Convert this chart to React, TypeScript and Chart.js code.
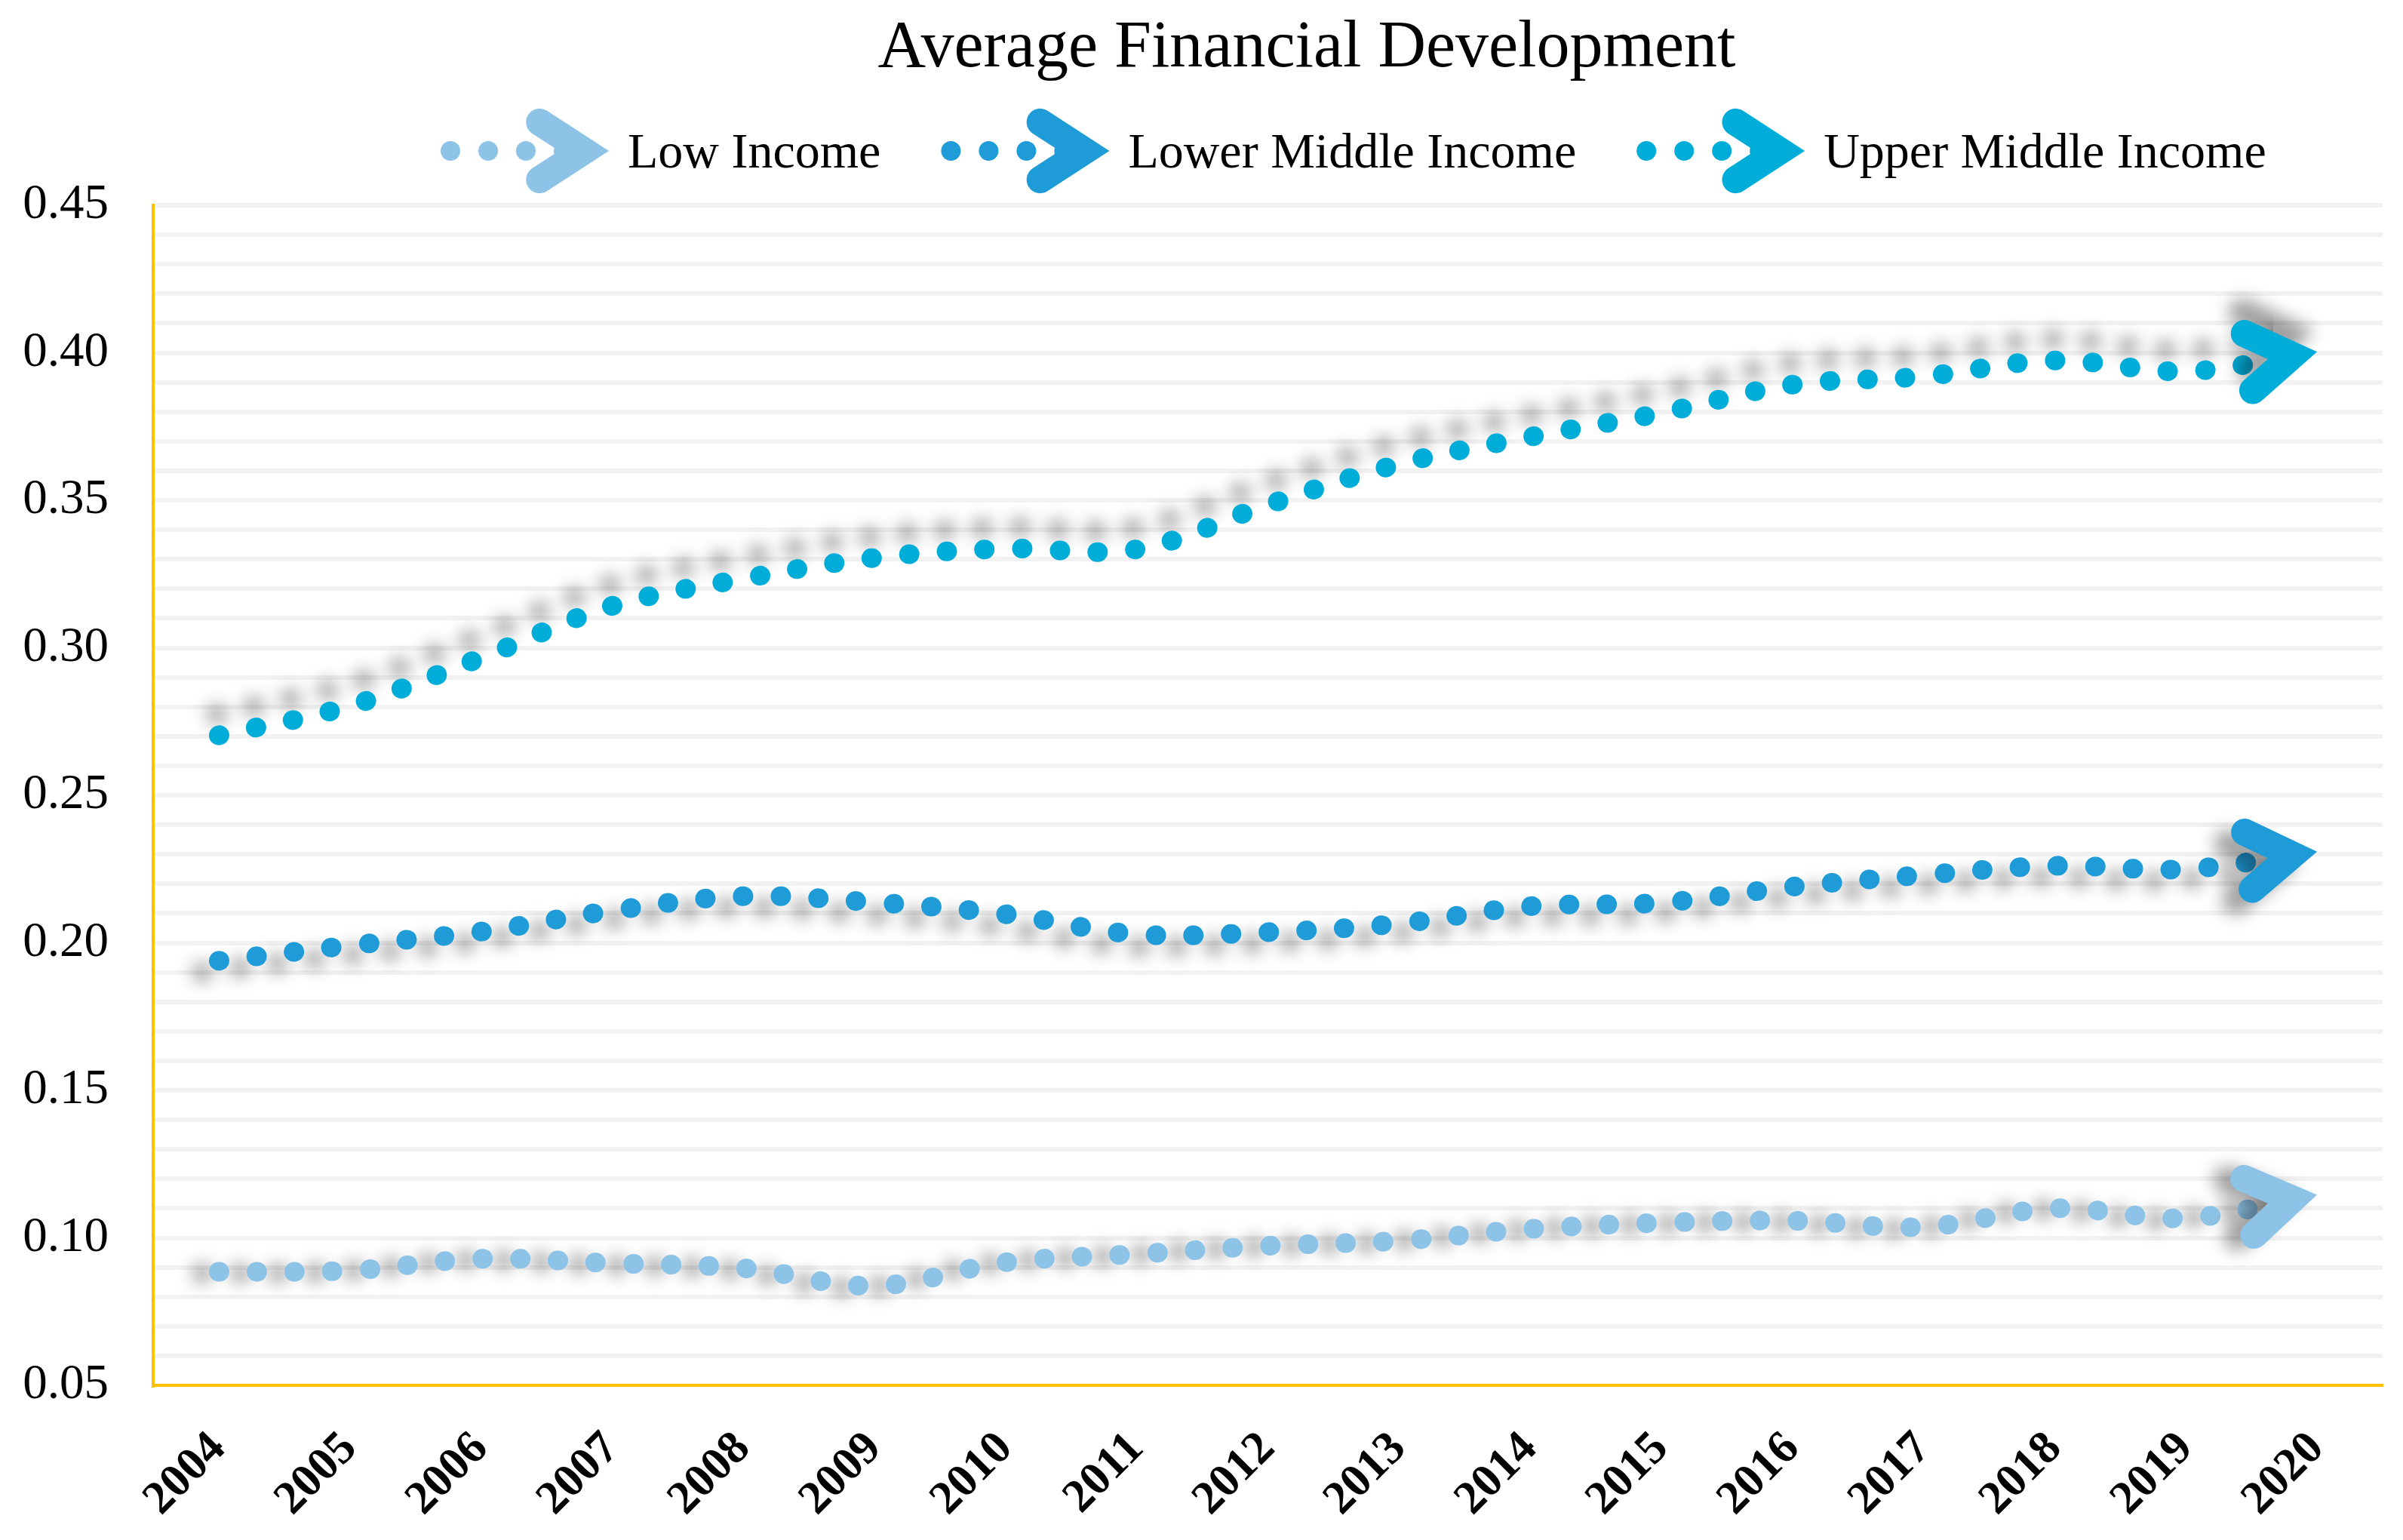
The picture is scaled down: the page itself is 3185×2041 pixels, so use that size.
import React, { useEffect, useRef } from 'react';
import { Chart, registerables } from 'chart.js';

Chart.register(...registerables);

// ---------- data ----------
const chartTitle = 'Average Financial Development';
const years = ['2004', '2005', '2006', '2007', '2008', '2009', '2010', '2011', '2012', '2013', '2014', '2015', '2016', '2017', '2018', '2019', '2020'];
const seriesNames = ['Low Income', 'Lower Middle Income', 'Upper Middle Income'];
const lowIncome = [0.0885, 0.0889, 0.0929, 0.0914, 0.0897, 0.0837, 0.0917, 0.0945, 0.0973, 0.0990, 0.1030, 0.1051, 0.1058, 0.1037, 0.1100, 0.1067, 0.1146];
const lowerMiddleIncome = [0.1939, 0.1991, 0.2038, 0.2109, 0.2158, 0.2137, 0.2097, 0.2029, 0.2036, 0.2065, 0.2124, 0.2136, 0.2190, 0.2230, 0.2261, 0.2250, 0.2309];
const upperMiddleIncome = [0.2703, 0.2803, 0.2966, 0.3142, 0.3234, 0.3305, 0.3336, 0.3334, 0.3485, 0.3623, 0.3715, 0.3796, 0.3892, 0.3920, 0.3974, 0.3937, 0.4003];
const yTickLabels = ['0.05', '0.10', '0.15', '0.20', '0.25', '0.30', '0.35', '0.40', '0.45'];

// ---------- styles ----------
const seriesColors = ['#8DC3E6', '#1F9CD8', '#00ACD8'];
const shadowOffsets: [number, number][] = [[-22, 2], [-22, 15], [-3, -28]];
const SERIF = '"Liberation Serif", "Times New Roman", Times, serif';
const AXIS_GOLD = '#FFC000';
const GRID_GREY = '#F2F2F2';

function drawChevron(ctx: CanvasRenderingContext2D, tipX: number, tipY: number, ang: number, color: string) {
  const w = 36;
  const half = (33 * Math.PI) / 180;
  const back = w / 2 / Math.sin(half);
  const L = 70;
  const vx = tipX - Math.cos(ang) * back;
  const vy = tipY - Math.sin(ang) * back;
  const a1 = ang + Math.PI - half;
  const a2 = ang + Math.PI + half;
  ctx.beginPath();
  ctx.moveTo(vx + Math.cos(a1) * L, vy + Math.sin(a1) * L);
  ctx.lineTo(vx, vy);
  ctx.lineTo(vx + Math.cos(a2) * L, vy + Math.sin(a2) * L);
  ctx.setLineDash([]);
  ctx.lineWidth = w;
  ctx.strokeStyle = color;
  ctx.lineCap = 'round';
  ctx.lineJoin = 'miter';
  ctx.miterLimit = 10;
  ctx.stroke();
}

const seriesEffects = {
  id: 'seriesEffects',
  beforeDatasetDraw(chart: any, args: any) {
    const ctx: CanvasRenderingContext2D = chart.ctx;
    const off = shadowOffsets[args.index] || [0, 0];
    const pts = args.meta.data;
    const last = pts[pts.length - 1];
    ctx.save();
    ctx.shadowColor = 'rgba(0,0,0,0.38)';
    ctx.shadowBlur = 22;
    ctx.shadowOffsetX = off[0];
    ctx.shadowOffsetY = off[1];
    // the dotted line stops under the arrow head
    ctx.save();
    ctx.beginPath();
    ctx.rect(0, 0, last.x - 58, chart.height);
    ctx.clip();
  },
  afterDatasetDraw(chart: any, args: any) {
    const ctx: CanvasRenderingContext2D = chart.ctx;
    ctx.restore();
    const pts = args.meta.data;
    const last = pts[pts.length - 1];
    const prev = pts[pts.length - 2];
    const cx = typeof last.cp1x === 'number' && !isNaN(last.cp1x) ? last.cp1x : prev.x;
    const cy = typeof last.cp1y === 'number' && !isNaN(last.cp1y) ? last.cp1y : prev.y;
    let dx = last.x - cx;
    let dy = last.y - cy;
    if (Math.abs(dx) < 1e-6 && Math.abs(dy) < 1e-6) {
      dx = last.x - prev.x;
      dy = last.y - prev.y;
    }
    const ang = Math.atan2(dy, dx);
    const color = chart.data.datasets[args.index].borderColor;
    drawChevron(ctx, last.x, last.y, ang, color);
    ctx.restore();
  },
};

const header = {
  id: 'header',
  afterDraw(chart: any) {
    const ctx: CanvasRenderingContext2D = chart.ctx;
    ctx.save();
    ctx.fillStyle = '#000';
    ctx.font = `88px ${SERIF}`;
    ctx.textAlign = 'center';
    ctx.textBaseline = 'alphabetic';
    ctx.fillText(chartTitle, 1724, 80);

    ctx.font = `66px ${SERIF}`;
    ctx.textAlign = 'left';
    const cy = 192;
    let x = 589;
    chart.data.datasets.forEach((ds: any) => {
      ctx.fillStyle = ds.borderColor;
      [0, 50, 100, 150].forEach((k) => {
        ctx.beginPath();
        ctx.arc(x + k, cy, 13, 0, Math.PI * 2);
        ctx.fill();
      });
      drawChevron(ctx, x + 210, cy, 0, ds.borderColor);
      ctx.fillStyle = '#000';
      ctx.fillText(ds.label, x + 235, 214);
      x += 235 + ctx.measureText(ds.label).width + 93;
    });
    ctx.restore();
  },
};

export default function App() {
  const canvasRef = useRef<HTMLCanvasElement | null>(null);

  useEffect(() => {
    if (!canvasRef.current) return;
    const seriesValues = [lowIncome, lowerMiddleIncome, upperMiddleIncome];
    const chart = new Chart(canvasRef.current, {
      type: 'line',
      data: {
        labels: years,
        datasets: seriesNames.map((name, i) => ({
          label: name,
          data: seriesValues[i],
          borderColor: seriesColors[i],
          backgroundColor: seriesColors[i],
          borderWidth: 26,
          borderDash: [1, 49],
          borderCapStyle: 'round' as const,
          borderJoinStyle: 'round' as const,
          tension: 0.35,
          pointRadius: 0,
          pointHoverRadius: 0,
          fill: false,
        })),
      },
      options: {
        animation: false,
        responsive: true,
        maintainAspectRatio: false,
        events: [],
        layout: { padding: { top: 264, right: 19, left: 0, bottom: 0 } },
        plugins: {
          legend: { display: false },
          title: { display: false },
          tooltip: { enabled: false },
        },
        scales: {
          x: {
            type: 'category',
            offset: true,
            grid: { display: false, drawTicks: false },
            border: { display: true, color: AXIS_GOLD, width: 4 },
            ticks: {
              autoSkip: false,
              minRotation: 45,
              maxRotation: 45,
              padding: 48,
              color: '#000',
              font: { family: SERIF, size: 62, weight: 'bold' },
            },
            afterFit: (scale: any) => {
              scale.height = 197;
            },
          },
          y: {
            type: 'linear',
            min: 0.05,
            max: 0.45,
            grid: {
              drawTicks: false,
              lineWidth: 6,
              color: (c: any) => (c.tick && Math.abs(c.tick.value - 0.05) < 1e-6 ? 'rgba(0,0,0,0)' : GRID_GREY),
            },
            border: { display: true, color: AXIS_GOLD, width: 4 },
            ticks: {
              stepSize: 0.01,
              autoSkip: false,
              padding: 59,
              color: '#000',
              font: { family: SERIF, size: 65 },
              callback: (v: any) => {
                const s = Number(v).toFixed(2);
                return yTickLabels.includes(s) ? s : '';
              },
            },
            afterFit: (scale: any) => {
              scale.width = 195;
            },
          },
        },
      },
      plugins: [seriesEffects, header],
    });
    return () => chart.destroy();
  }, []);

  return (
    <div style={{ position: 'relative', width: '3169px', height: '2025px' }}>
      <canvas ref={canvasRef} style={{ display: 'block' }} />
    </div>
  );
}
